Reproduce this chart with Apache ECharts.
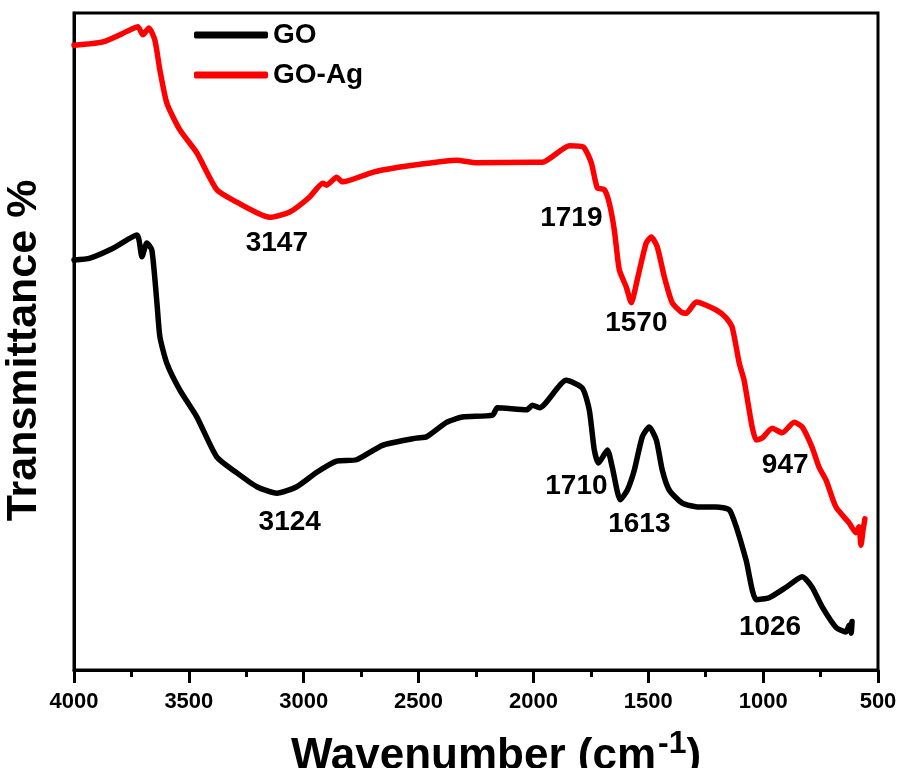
<!DOCTYPE html>
<html>
<head>
<meta charset="utf-8">
<script src="https://cdn.jsdelivr.net/npm/echarts@6/dist/echarts.min.js"></script>
<style>
  html, body { margin: 0; padding: 0; background: #fff; }
  #chart { width: 901px; height: 768px; }
</style>
</head>
<body>
<div id="chart"></div>
<script>
// FTIR 光谱数据 (波数 cm-1, 透过率 任意单位)
var goWave = [4000, 3930, 3830, 3726, 3704, 3683, 3661, 3639, 3626, 3596, 3539, 3465, 3378, 3291, 3204, 3117,
  3030, 2943, 2857, 2770, 2657, 2509, 2465, 2378, 2309, 2178, 2157, 2030, 2004, 1974, 1857, 1787, 1757,
  1735, 1717, 1678, 1657, 1622, 1591, 1561, 1526, 1496, 1465, 1439, 1409, 1352, 1278, 1204, 1148, 1117,
  1074, 1030, 974, 900, 830, 787, 743, 683, 639, 626, 617, 613];
var goT = [62.4, 62.7, 64.2, 66.2, 62.9, 65.0, 63.9, 55.9, 50.7, 46.7, 42.6, 38.5, 32.4, 30.0, 27.9, 26.9,
  27.9, 30.1, 31.8, 32.0, 34.2, 35.3, 35.5, 37.7, 38.5, 38.8, 39.9, 39.6, 40.3, 39.9, 44.1, 42.9, 39.6,
  33.5, 31.5, 33.5, 30.9, 25.9, 27.4, 30.4, 35.5, 37.0, 35.0, 30.4, 27.4, 25.4, 24.8, 24.8, 24.4, 21.8,
  16.7, 10.7, 11.0, 12.6, 14.2, 12.6, 9.6, 6.5, 5.8, 6.8, 5.6, 7.4];

var goAgWave = [4000, 3874, 3757, 3722, 3700, 3674, 3648, 3626, 3596, 3539, 3465, 3378, 3291, 3204, 3148,
  3061, 2974, 2917, 2900, 2857, 2830, 2713, 2657, 2509, 2335, 2248, 2004, 1961, 1843, 1783, 1748, 1722,
  1691, 1670, 1648, 1626, 1596, 1574, 1548, 1509, 1487, 1461, 1430, 1396, 1357, 1335, 1291, 1204, 1161,
  1135, 1104, 1083, 1048, 1030, 1004, 961, 917, 865, 830, 787, 757, 726, 683, 626, 596, 583, 574, 565, 557];
var goAgT = [95.1, 95.6, 97.4, 97.9, 96.7, 97.7, 95.9, 91.3, 86.3, 82.2, 78.7, 73.1, 71.2, 69.6, 68.9,
  69.7, 72.0, 74.1, 73.8, 75.0, 74.3, 75.6, 76.1, 76.9, 77.6, 77.2, 77.3, 77.3, 79.8, 79.6, 77.2, 73.4,
  73.1, 71.1, 67.0, 60.9, 58.3, 55.9, 59.4, 65.0, 65.9, 64.4, 59.8, 55.9, 54.5, 54.3, 56.0, 54.8, 53.6,
  52.2, 46.7, 44.1, 37.0, 35.0, 35.3, 36.8, 36.1, 37.7, 37.0, 33.9, 30.9, 28.9, 24.8, 22.4, 20.9, 21.8,
  19.0, 21.3, 23.0];

// 峰位标注
var annoText = ['3147', '1719', '1570', '947', '3124', '1710', '1613', '1026'];
var annoX = [3117, 1835, 1552, 904, 3061, 1813, 1539, 970];
var annoY = [65.0, 68.8, 52.7, 31.2, 22.5, 28.0, 22.2, 6.5];

var xTicks = [500, 4000, 500]; // min, max, interval

function zip(a, b) {
  var out = [];
  for (var i = 0; i < a.length; i++) out.push([a[i], b[i]]);
  return out;
}

var font = '"Liberation Sans", Arial, sans-serif';
var myChart = echarts.init(document.getElementById('chart'));

var annoData = [];
for (var i = 0; i < annoText.length; i++) {
  annoData.push({ name: annoText[i], value: [annoX[i], annoY[i]] });
}

var option = {
  backgroundColor: '#ffffff',
  animation: false,
  grid: {
    left: 74, right: 23, top: 13, bottom: 98,
    outerBoundsMode: 'none',
    containLabel: false,
    show: true, borderColor: '#000', borderWidth: 3
  },
  legend: {
    orient: 'vertical',
    left: 194, top: 21,
    padding: 0,
    itemWidth: 74, itemHeight: 7, itemGap: 12,
    icon: 'roundRect',
    data: ['GO', 'GO-Ag'],
    textStyle: { fontFamily: font, fontWeight: 'bold', fontSize: 28, color: '#000' }
  },
  xAxis: {
    type: 'value',
    min: xTicks[0], max: xTicks[1], interval: xTicks[2],
    inverse: true,
    name: '{a|Wavenumber (cm}{b|-1}{a|)}',
    nameLocation: 'middle',
    nameGap: 58,
    nameTextStyle: {
      padding: [0, 0, 0, 40],
      rich: {
        a: { fontFamily: font, fontWeight: 'bold', fontSize: 44, color: '#000' },
        b: { fontFamily: font, fontWeight: 'bold', fontSize: 32, color: '#000', padding: [0, 0, 26, 2] }
      }
    },
    axisLine: { show: true, lineStyle: { color: '#000', width: 3 } },
    axisTick: { show: true, inside: false, length: 13, lineStyle: { color: '#000', width: 3 } },
    minorTick: { show: true, splitNumber: 2, length: 7, lineStyle: { color: '#000', width: 3 } },
    axisLabel: {
      margin: 21, fontFamily: font, fontWeight: 'bold', fontSize: 22, color: '#000',
      formatter: function (v) { return String(v); }
    },
    splitLine: { show: false }
  },
  yAxis: {
    type: 'value',
    min: 0, max: 100,
    name: 'Transmittance %',
    nameLocation: 'middle',
    nameGap: 28,
    nameTextStyle: {
      fontFamily: font, fontWeight: 'bold', fontSize: 43, color: '#000',
      padding: [0, 18, 0, 0]
    },
    axisLine: { show: true, lineStyle: { color: '#000', width: 3 } },
    axisTick: { show: false },
    axisLabel: { show: false },
    splitLine: { show: false }
  },
  series: [
    {
      name: 'GO',
      type: 'line',
      data: zip(goWave, goT),
      smooth: 0.2,
      showSymbol: false,
      symbol: 'none',
      color: '#000000',
      lineStyle: { color: '#000000', width: 5.5, cap: 'round', join: 'round' }
    },
    {
      name: 'GO-Ag',
      type: 'line',
      data: zip(goAgWave, goAgT),
      smooth: 0.2,
      showSymbol: false,
      symbol: 'none',
      color: '#ff0000',
      lineStyle: { color: '#ff0000', width: 5.5, cap: 'round', join: 'round' }
    },
    {
      name: 'peaks',
      type: 'scatter',
      data: annoData,
      symbolSize: 0,
      silent: true,
      itemStyle: { opacity: 1 },
      label: {
        show: true,
        position: 'inside',
        formatter: '{b}',
        fontFamily: font, fontWeight: 'bold', fontSize: 28, color: '#000'
      }
    }
  ]
};

myChart.setOption(option);
</script>
</body>
</html>
